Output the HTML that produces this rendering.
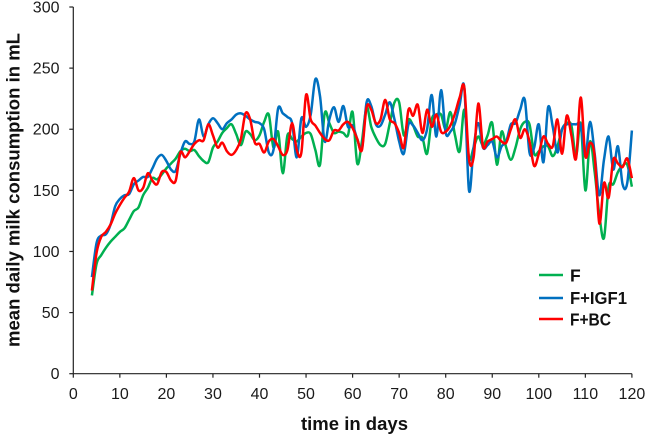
<!DOCTYPE html>
<html lang="en">
<head>
<meta charset="utf-8">
<title>Mean daily milk consumption</title>
<style>
html,body{margin:0;padding:0;background:#fff;}
svg{display:block;font-family:"Liberation Sans",sans-serif;}
</style>
</head>
<body>
<svg id="chart" xmlns="http://www.w3.org/2000/svg" width="647" height="436" viewBox="0 0 647 436">
  <rect width="647" height="436" fill="#fff"/>
  <g id="axes"></g>
  <g id="series"></g>
  <text transform="translate(13 190) rotate(-90)" text-anchor="middle" dominant-baseline="central" font-size="18.5" font-weight="700" fill="#111" textLength="314" lengthAdjust="spacingAndGlyphs">mean daily milk consumption in mL</text>
  <text x="354.500" y="430" text-anchor="middle" font-size="18.5" font-weight="700" fill="#111" textLength="107" lengthAdjust="spacingAndGlyphs">time in days</text>
  <g>
    <line x1="539" x2="563" y1="275" y2="275" stroke="#00B050" stroke-width="2.500"/>
    <text x="570" y="281.500" font-size="17.5" font-weight="700" fill="#111">F</text>
    <line x1="539" x2="563" y1="298" y2="298" stroke="#0070C0" stroke-width="2.500"/>
    <text x="570" y="304" font-size="17.5" font-weight="700" fill="#111" textLength="57" lengthAdjust="spacingAndGlyphs">F+IGF1</text>
    <line x1="539" x2="563" y1="319" y2="319" stroke="#FF0000" stroke-width="2.500"/>
    <text x="570" y="325.500" font-size="17.5" font-weight="700" fill="#111" textLength="41" lengthAdjust="spacingAndGlyphs">F+BC</text>
  </g>
</svg>
<script>
const xTicks = [0,10,20,30,40,50,60,70,80,90,100,110,120];
const yTicks = [0,50,100,150,200,250,300];
const firstDay = 4;
const seriesF = [64,90,97,103,108,112,116,119,126,133,136,146,152,160,159,163,168,172,176,182,184,182,183,178,174,173,185,190,197,201,204,196,187,198,196,191,195,206,212,185,198,164,195,192,190,194,197,196,183,171,213,205,197,198,197,195,214,172,190,218,202,193,187,188,205,222,222,195,208,203,194,193,180,208,212,212,200,214,195,182,216,176,185,194,187,195,205,171,198,185,175,185,200,206,204,180,182,186,186,178,186,200,205,203,178,205,150,190,165,130,111,153,155,165,170,171,153];
const seriesIGF1 = [79,107,113,114,122,137,143,146,147,155,158,161,161,168,176,179,174,167,166,180,190,188,190,208,194,204,209,205,200,205,208,212,213,211,208,206,205,200,181,183,217,213,210,205,177,209,202,212,241,227,190,208,218,206,219,202,203,192,184,222,219,204,203,212,222,208,190,180,204,203,197,191,200,228,194,232,197,198,205,220,234,150,185,205,185,187,190,177,186,190,204,205,216,224,181,185,204,173,218,202,181,200,204,204,204,203,178,206,180,146,175,194,167,186,155,156,199];
const seriesBC = [68,99,112,116,122,131,138,144,149,160,150,152,164,158,155,165,165,158,158,181,177,182,188,191,191,204,195,185,189,182,179,183,192,213,208,189,188,181,190,192,186,179,183,205,183,181,228,208,203,197,192,191,199,199,204,206,201,192,183,218,216,205,208,224,208,205,197,185,216,211,220,197,216,202,212,198,198,203,213,226,234,176,177,221,186,190,192,194,190,189,200,208,193,200,190,170,180,194,188,186,208,180,211,195,176,226,178,189,178,123,156,144,175,172,169,176,160];

const NS = 'http://www.w3.org/2000/svg';
const xScale = function (d) { return 73.3 + d * 4.655; };
const yScale = function (v) { return 373.7 - v * 1.2223; };
const axes = document.getElementById('axes');
const seriesGroup = document.getElementById('series');

function addLine(x1, y1, x2, y2) {
  const l = document.createElementNS(NS, 'line');
  l.setAttribute('x1', x1);
  l.setAttribute('y1', y1);
  l.setAttribute('x2', x2);
  l.setAttribute('y2', y2);
  l.setAttribute('stroke', '#222');
  l.setAttribute('stroke-width', '1.2');
  axes.appendChild(l);
  return l;
}
function addLabel(x, y, anchor, str) {
  const t = document.createElementNS(NS, 'text');
  t.setAttribute('x', x);
  t.setAttribute('y', y);
  t.setAttribute('text-anchor', anchor);
  t.setAttribute('font-size', '16');
  t.setAttribute('fill', '#1a1a1a');
  t.textContent = str;
  axes.appendChild(t);
  return t;
}

const xAxisLine = addLine(xScale(0), yScale(0), xScale(120), yScale(0));


const yAxisLine = addLine(xScale(0), yScale(0), xScale(0), yScale(300));



xTicks.forEach(function (d) {
  const tick = addLine(xScale(d), yScale(0), xScale(d), yScale(0) + 4);
  
  
  const label = addLabel(xScale(d), 399, 'middle', String(d));
  
  
});
yTicks.forEach(function (v) {
  const tick = addLine(xScale(0) - 4, yScale(v), xScale(0), yScale(v));
  
  
  const label = addLabel(59.500, yScale(v) + 5.500, 'end', String(v));
  
  
});

function smoothPath(values) {
  const pts = values.map(function (v, i) { return [xScale(firstDay + i), yScale(v)]; });
  let d = 'M' + pts[0][0].toFixed(2) + ' ' + pts[0][1].toFixed(2);
  for (let i = 0; i < pts.length - 1; i++) {
    const p0 = pts[Math.max(0, i - 1)];
    const p1 = pts[i];
    const p2 = pts[i + 1];
    const p3 = pts[Math.min(pts.length - 1, i + 2)];
    const c1x = p1[0] + (p2[0] - p0[0]) / 6;
    const c1y = p1[1] + (p2[1] - p0[1]) / 6;
    const c2x = p2[0] - (p3[0] - p1[0]) / 6;
    const c2y = p2[1] - (p3[1] - p1[1]) / 6;
    d += 'C' + c1x.toFixed(2) + ' ' + c1y.toFixed(2) + ' ' + c2x.toFixed(2) + ' ' + c2y.toFixed(2) + ' ' + p2[0].toFixed(2) + ' ' + p2[1].toFixed(2);
  }
  return d;
}
function addSeries(values, color) {
  const p = document.createElementNS(NS, 'path');
  p.setAttribute('d', smoothPath(values));
  p.setAttribute('fill', 'none');
  p.setAttribute('stroke', color);
  p.setAttribute('stroke-width', '2.5');
  p.setAttribute('stroke-linejoin', 'round');
  seriesGroup.appendChild(p);
  return p;
}
const lineF = addSeries(seriesF, '#00B050');


const lineIGF1 = addSeries(seriesIGF1, '#0070C0');


const lineBC = addSeries(seriesBC, '#FF0000');


</script>
</body>
</html>
